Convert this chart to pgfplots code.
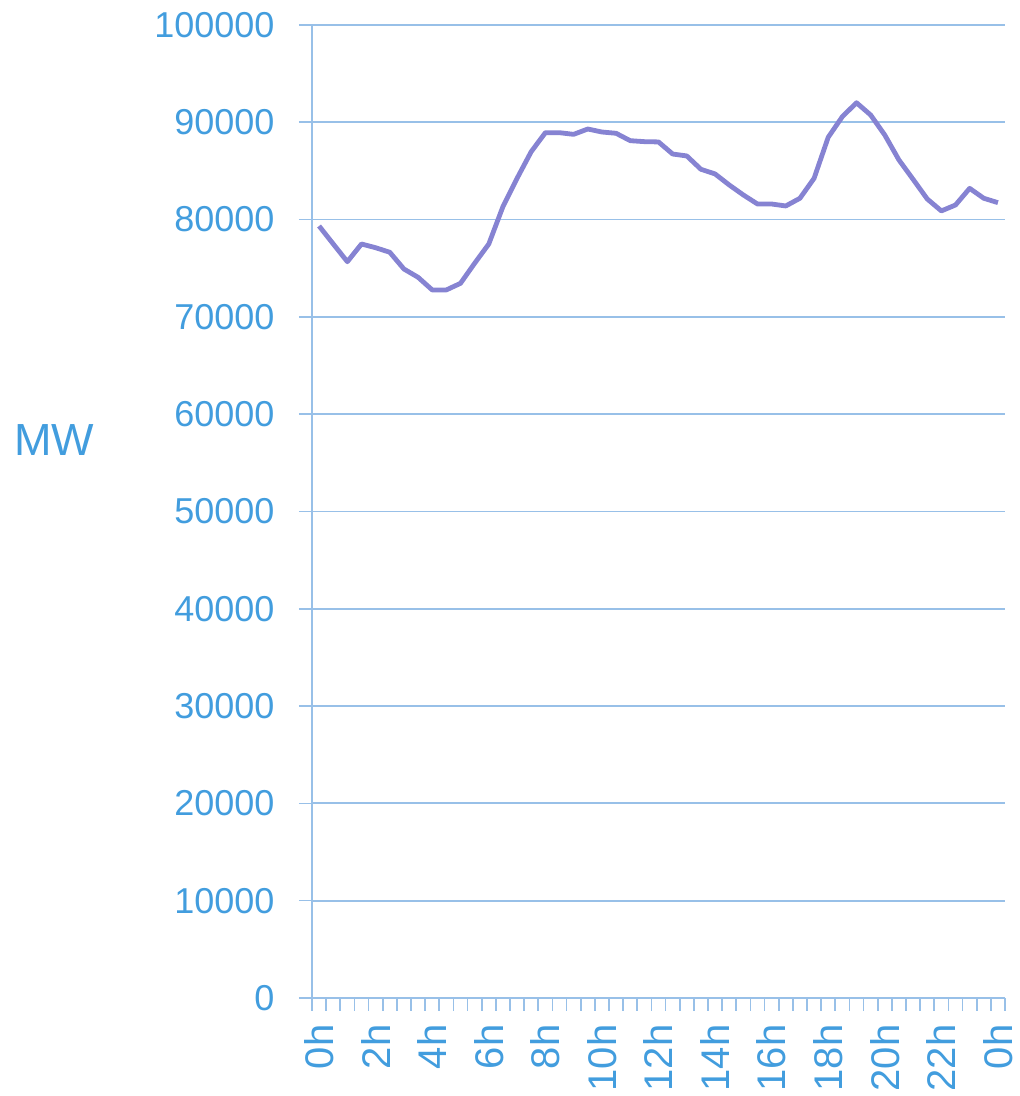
\documentclass[border=0pt]{standalone}
\usepackage{fontspec}
\setmainfont{Liberation Sans}
\usepackage{pgfplots}
\pgfplotsset{compat=1.18}
\definecolor{txt}{RGB}{66,157,222}
\definecolor{grd}{RGB}{152,192,232}
\definecolor{ln}{RGB}{134,131,210}
\pgfplotstableread{
i v
0 79340
1 77500
2 75670
3 77490
4 77110
5 76640
6 74920
7 74070
8 72770
9 72770
10 73450
11 75510
12 77490
13 81330
14 84240
15 86980
16 88930
17 88930
18 88760
19 89310
20 89000
21 88870
22 88110
23 88010
24 87980
25 86740
26 86540
27 85170
28 84690
29 83560
30 82530
31 81600
32 81600
33 81400
34 82190
35 84240
36 88460
37 90580
38 92010
39 90750
40 88690
41 86130
42 84140
43 82120
44 80890
45 81500
46 83210
47 82190
48 81740
}\load
\begin{document}
\begin{tikzpicture}
\begin{axis}[name=ax, scale only axis, width=693pt, height=973pt,
  xmin=-0.5, xmax=48.5, ymin=0, ymax=100000,
  axis x line=bottom, axis y line=left,
  axis line style={grd, line width=1.8pt, -},
  tick align=outside, major tick length=13pt,
  tick style={grd, line width=1.6pt},
  xtick={-0.5,0.5,...,48.5}, xticklabels={},
  extra x ticks={0,4,...,48},
  extra x tick labels={0h,2h,4h,6h,8h,10h,12h,14h,16h,18h,20h,22h,0h},
  extra x tick style={major tick length=0pt, tick style={draw=none},
    xticklabel style={rotate=90, anchor=east, font=\fontsize{40}{40}\selectfont}},
  xticklabel shift=23pt,
  ytick={0,10000,...,100000},
  ymajorgrids, grid style={grd, line width=1.8pt},
  scaled y ticks=false,
  yticklabel style={/pgf/number format/.cd, fixed, set thousands separator={}, assume math mode=true},
  tick label style={font=\fontsize{36}{36}\selectfont, text=txt},
  yticklabel shift=21pt,
  clip=false,
]
\addplot[ln, line width=4.8pt, line join=round] table[x=i, y=v] {\load};
\node[text=txt, font=\fontsize{45}{45}\selectfont] at (rel axis cs:-0.372,0.5735) {MW};
\end{axis}
\pgfresetboundingbox
\path ([shift={(-312pt,-98pt)}]ax.south west) rectangle ([shift={(14pt,25pt)}]ax.north east);
\end{tikzpicture}
\end{document}
